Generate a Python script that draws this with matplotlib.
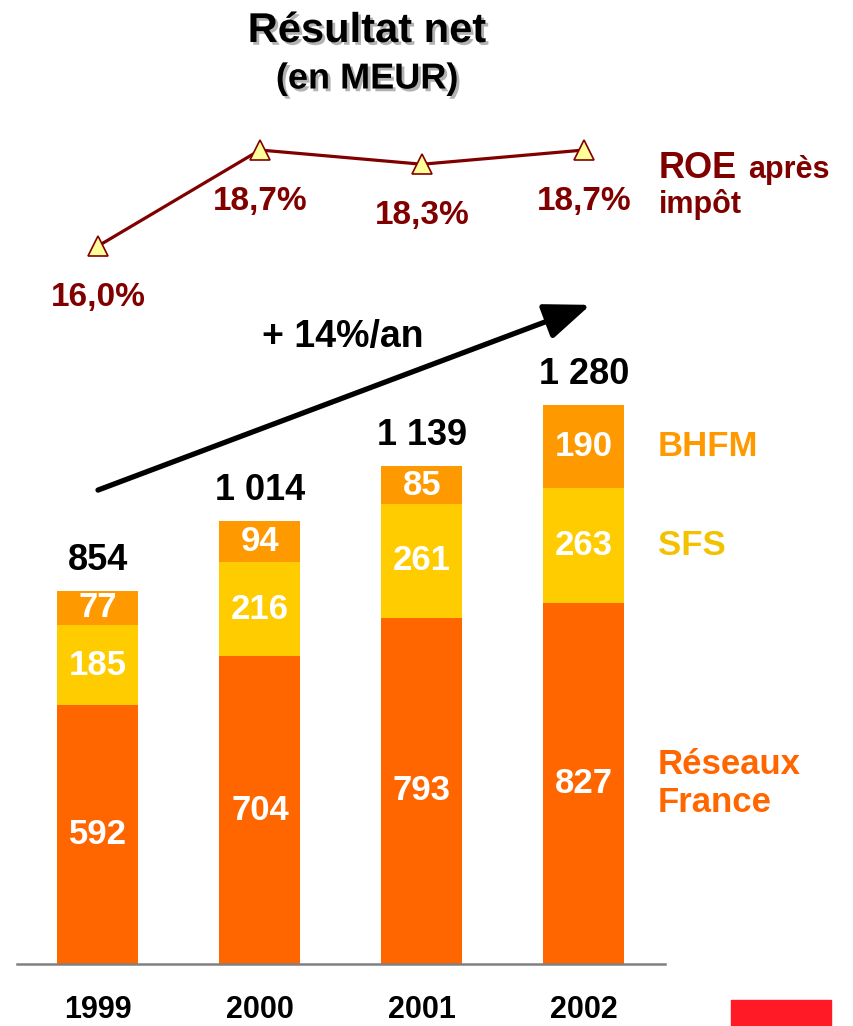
import matplotlib
matplotlib.use("Agg")
import matplotlib.pyplot as plt
import matplotlib.patheffects as pe
from matplotlib.patches import Rectangle
import numpy as np

plt.rcParams['font.family'] = ['Liberation Sans', 'DejaVu Sans']
plt.rcParams['font.weight'] = 'bold'

# data
years = ['1999', '2000', '2001', '2002']
reseaux = [592, 704, 793, 827]
sfs = [185, 216, 261, 263]
bhfm = [77, 94, 85, 190]
totals = ['854', '1 014', '1 139', '1 280']
roe = [16.0, 18.7, 18.3, 18.7]
roe_labels = ['16,0%', '18,7%', '18,3%', '18,7%']

c_res = '#FF6600'
c_sfs = '#FFCC00'
c_bhfm = '#FF9900'
c_roe = '#800000'

W, H = 854, 1026
fig = plt.figure(figsize=(W / 100, H / 100), dpi=100)

def fx(x):
    return x / W

def fy(y):
    return 1 - y / H

# bar axes: baseline at 964 px, 0.4368 px per MEUR
ax = fig.add_axes([fx(17), fy(964), 648 / W, 1400 * 0.4368 / H])
x = np.arange(len(years))
ax.bar(x, reseaux, 0.5, color=c_res)
ax.bar(x, sfs, 0.5, bottom=reseaux, color=c_sfs)
b2 = np.array(reseaux) + np.array(sfs)
ax.bar(x, bhfm, 0.5, bottom=b2, color=c_bhfm)
ax.set_xlim(-0.5, 3.5)
ax.set_ylim(0, 1400)
for s in ['top', 'right', 'left']:
    ax.spines[s].set_visible(False)
ax.spines['bottom'].set_color('#808080')
ax.spines['bottom'].set_linewidth(1.8)
ax.set_yticks([])
ax.set_xticks(x)
ax.set_xticklabels(years, fontsize=22, fontweight='bold')
ax.tick_params(axis='x', length=0, pad=22)

fs = 25
for i in range(len(years)):
    ax.text(x[i], reseaux[i] / 2, str(reseaux[i]), ha='center', va='center',
            color='white', fontsize=fs, fontweight='bold')
    ax.text(x[i], reseaux[i] + sfs[i] / 2, str(sfs[i]), ha='center', va='center',
            color='white', fontsize=fs, fontweight='bold')
    ax.text(x[i], b2[i] + bhfm[i] / 2, str(bhfm[i]), ha='center', va='center',
            color='white', fontsize=fs, fontweight='bold')
    ax.annotate(totals[i], (x[i], b2[i] + bhfm[i]), xytext=(0, 13),
                textcoords='offset pixels', ha='center', va='bottom',
                fontsize=26, fontweight='bold', color='black',
                annotation_clip=False)

# series labels on the right
ax.text(3.457, b2[3] + bhfm[3] / 2, 'BHFM', color=c_bhfm, fontsize=fs,
        fontweight='bold', ha='left', va='center', clip_on=False)
ax.text(3.457, reseaux[3] + sfs[3] / 2, 'SFS', color='#F2C200', fontsize=fs,
        fontweight='bold', ha='left', va='center', clip_on=False)
ax.text(3.457, reseaux[3] / 2, 'Réseaux\nFrance', color=c_res, fontsize=fs,
        fontweight='bold', ha='left', va='center', clip_on=False,
        linespacing=1.2)

# growth arrow
ax.annotate('', xy=(3.04, 1509), xytext=(0, 1085), annotation_clip=False,
            arrowprops=dict(arrowstyle='-|>,head_length=1.4,head_width=0.55',
                            mutation_scale=20, lw=3.8, color='black',
                            shrinkA=0, shrinkB=0))
ax.text(1.51, 1435, '+ 14%/an', ha='center', va='center', fontsize=27,
        fontweight='bold', color='black', clip_on=False)

# ROE line
ax2 = fig.add_axes([fx(17), fy(281.6), 648 / W, 177.8 / H])
ax2.plot(x, roe, color=c_roe, lw=2.3, marker='^', markersize=15,
         markerfacecolor='#FFFF99', markeredgecolor=c_roe, markeredgewidth=1.2,
         clip_on=False)
ax2.set_xlim(-0.5, 3.5)
ax2.set_ylim(15, 20)
ax2.axis('off')
for i in range(len(years)):
    ax2.annotate(roe_labels[i], (x[i], roe[i]), xytext=(0, -51),
                 textcoords='offset pixels', ha='center', va='center',
                 fontsize=24, fontweight='bold', color=c_roe,
                 annotation_clip=False)

fig.text(fx(659), fy(178), 'ROE', color=c_roe, fontsize=26, fontweight='bold',
         ha='left', va='baseline')
fig.text(fx(748), fy(178), 'après', color=c_roe, fontsize=22, fontweight='bold',
         ha='left', va='baseline')
fig.text(fx(659), fy(213), 'impôt', color=c_roe, fontsize=22, fontweight='bold',
         ha='left', va='baseline')

# title
shadow = [pe.withSimplePatchShadow(offset=(2, -2), shadow_rgbFace='gray', alpha=0.6)]
fig.text(fx(367), fy(31), 'Résultat net', ha='center', va='center',
         fontsize=30, fontweight='bold', color='black', path_effects=shadow)
fig.text(fx(367), fy(79), '(en MEUR)', ha='center', va='center',
         fontsize=26, fontweight='bold', color='black', path_effects=shadow)

# red block bottom right
fig.patches.append(Rectangle((fx(731), 0), 100 / W, 26 / H, transform=fig.transFigure,
                             color='#FF1A25', figure=fig))

fig.savefig('out.png', dpi=100)
